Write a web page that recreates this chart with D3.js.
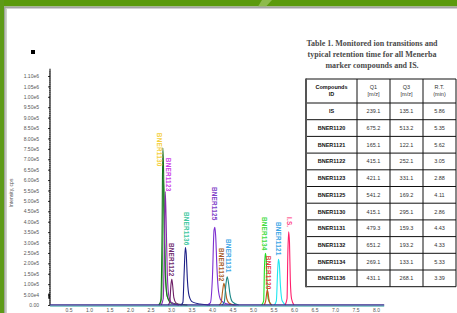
<!DOCTYPE html>
<html><head><meta charset="utf-8">
<script src="https://cdn.jsdelivr.net/npm/d3@7/dist/d3.min.js"></script>
<style>html,body{margin:0;padding:0;background:#fff;overflow:hidden}svg{display:block}</style>
</head><body><svg id="c" width="457" height="313"></svg>
<script>
// ---------- data ----------
const yTickValues = [0,50000,100000,150000,200000,250000,300000,350000,400000,450000,500000,550000,600000,650000,700000,750000,800000,850000,900000,950000,1000000,1050000,1100000];
const yTickLabels = ["0.00","5.00e4","1.00e5","1.50e5","2.00e5","2.50e5","3.00e5","3.50e5","4.00e5","4.50e5","5.00e5","5.50e5","6.00e5","6.50e5","7.00e5","7.50e5","8.00e5","8.50e5","9.00e5","9.50e5","1.00e6","1.05e6","1.10e6"];
const xTickValues = [0.5,1.0,1.5,2.0,2.5,3.0,3.5,4.0,4.5,5.0,5.5,6.0,6.5,7.0,7.5,8.0];
const timeExtent = [0.05, 8.2];

// chromatogram traces: [time (min), intensity (cps)]
const tr1130  = [[2.70,0],[2.75,20000],[2.78,320000],[2.80,755000],[2.82,640000],[2.84,300000],[2.87,110000],[2.91,40000],[3.0,12000],[3.2,3000],[3.4,0]];
const tr1130b = [[2.72,0],[2.77,30000],[2.80,300000],[2.82,600000],[2.84,450000],[2.87,150000],[2.91,40000],[3.0,8000],[3.2,0]];
const tr1123  = [[2.76,0],[2.81,30000],[2.84,300000],[2.86,545000],[2.88,420000],[2.91,150000],[2.95,40000],[3.02,10000],[3.2,0]];
const tr1122  = [[2.93,0],[2.97,15000],[3.00,100000],[3.02,124000],[3.04,95000],[3.07,35000],[3.12,10000],[3.25,0]];
const tr1136  = [[3.24,0],[3.29,12000],[3.32,150000],[3.35,276000],[3.37,250000],[3.40,120000],[3.44,45000],[3.52,15000],[3.7,5000],[3.95,0]];
const tr1125  = [[3.88,0],[3.96,10000],[4.01,130000],[4.05,360000],[4.07,373000],[4.09,330000],[4.12,180000],[4.16,65000],[4.22,22000],[4.35,6000],[4.6,0]];
const tr1132  = [[4.17,0],[4.22,10000],[4.26,70000],[4.29,104000],[4.32,80000],[4.36,30000],[4.42,8000],[4.55,0]];
const tr1131  = [[4.24,0],[4.30,15000],[4.34,100000],[4.37,136000],[4.40,110000],[4.44,50000],[4.50,15000],[4.65,0]];
const tr1134  = [[5.21,0],[5.26,20000],[5.28,180000],[5.30,248000],[5.32,230000],[5.34,120000],[5.37,30000],[5.45,0]];
const tr1120  = [[5.27,0],[5.31,20000],[5.34,65000],[5.35,72000],[5.37,55000],[5.40,15000],[5.46,0]];
const tr1121  = [[5.52,0],[5.57,20000],[5.60,160000],[5.62,220000],[5.64,200000],[5.67,90000],[5.71,20000],[5.80,0]];
const trIS    = [[5.78,0],[5.83,30000],[5.85,250000],[5.87,352000],[5.89,300000],[5.91,120000],[5.94,30000],[6.00,0]];

const traces = [
  {data: tr1130b, color: "#49b049"},
  {data: tr1130,  color: "#17741c"},
  {data: tr1123,  color: "#8a2bb0"},
  {data: tr1122,  color: "#6e1f66"},
  {data: tr1136,  color: "#1c1f86"},
  {data: tr1125,  color: "#7d2ed0"},
  {data: tr1132,  color: "#b06020"},
  {data: tr1131,  color: "#178585"},
  {data: tr1134,  color: "#1fe01f"},
  {data: tr1120,  color: "#cc4a1c"},
  {data: tr1121,  color: "#1ee6f0"},
  {data: trIS,    color: "#ff1f6b"}
];

// peak labels: name, label anchor time, label top intensity
const labelNames = ["BNER1130","BNER1123","BNER1122","BNER1136","BNER1125","BNER1132","BNER1131","BNER1134","BNER1120","BNER1121","I.S."];
const labelTimes = [2.71,2.95,3.02,3.37,4.07,4.24,4.41,5.29,5.39,5.61,5.88];
const labelTops  = [827000,707000,298000,447000,567000,274000,317000,423000,236000,399000,423000];
const labelColors = ["#f5d03e","#cc3ee8","#6e2a6e","#3cc8a0","#7e3ec8","#a85a26","#3aa6e6","#3edc3e","#e83c3c","#3aa6e6","#ff3d84"];

// table
const tableTitle = ["Table 1. Monitored ion transitions and","typical retention time for all Menerba","marker compounds and IS."];
const colHeads1 = ["Compounds","Q1","Q3","R.T."];
const colHeads2 = ["ID","[m/z]","[m/z]","(min)"];
const compounds = ["IS","BNER1120","BNER1121","BNER1122","BNER1123","BNER1125","BNER1130","BNER1131","BNER1132","BNER1134","BNER1136"];
const q1 = ["239.1","675.2","165.1","415.1","421.1","541.2","415.1","479.3","651.2","269.1","431.1"];
const q3 = ["135.1","513.2","122.1","252.1","331.1","169.2","295.1","159.3","193.2","133.1","268.1"];
const rt = ["5.86","5.35","5.62","3.05","2.88","4.11","2.86","4.43","4.33","5.33","3.39"];

// ---------- drawing ----------
const svg = d3.select("#c");

// frame
svg.append("rect").attr("x",0).attr("y",0).attr("width",457).attr("height",313).attr("fill","#fff");
svg.append("rect").attr("x",0).attr("y",0).attr("width",457).attr("height",6.5).attr("fill","#5b9a0c");
svg.append("polygon").attr("points","262,0 272,0 266,6.5 258,6.5").attr("fill","#8dbb4c");
svg.append("rect").attr("x",0).attr("y",6.5).attr("width",457).attr("height",1.5).attr("fill","#a3a3a3");
svg.append("rect").attr("x",0).attr("y",8).attr("width",457).attr("height",1).attr("fill","#d2d2d2");
svg.append("rect").attr("x",0).attr("y",0).attr("width",4).attr("height",313).attr("fill","#5e9a18");
svg.append("rect").attr("x",4).attr("y",6.5).attr("width",1.7).attr("height",306.5).attr("fill","#9fa59a");
svg.append("rect").attr("x",5.7).attr("y",8).attr("width",1.3).attr("height",305).attr("fill","#cfd2cc");

// small bullet
svg.append("rect").attr("x",31).attr("y",50).attr("width",4).attr("height",4).attr("fill","#000");

// scales
const x = d3.scaleLinear().domain([0,8]).range([48,376]);
const y = d3.scaleLinear().domain([0,1100000]).range([305,76]);

// y axis
const yAx = svg.append("g").attr("transform","translate(50,0)")
  .call(d3.axisLeft(y).tickValues(yTickValues).tickFormat((d,i)=>yTickLabels[i]).tickSizeInner(2).tickSizeOuter(0).tickPadding(9));
yAx.select(".domain").remove();
yAx.selectAll("line").attr("stroke","#000").attr("stroke-width",0.8);
yAx.selectAll("text").attr("font-family","Liberation Sans, Arial, sans-serif").attr("font-size","5px").attr("fill","#555");
// minor ticks
const minor = d3.range(0, 1130000, 10000);
svg.append("g").selectAll("line").data(minor).join("line")
  .attr("x1",49).attr("x2",50.5).attr("y1",d=>y(d)).attr("y2",d=>y(d)).attr("stroke","#000").attr("stroke-width",0.5);
svg.append("line").attr("x1",50).attr("x2",50).attr("y1",y(1135000)).attr("y2",y(0)).attr("stroke","#000").attr("stroke-width",1);
svg.append("rect").attr("x",48.3).attr("y",y(55000)).attr("width",1.7).attr("height",y(30000)-y(55000)).attr("fill","#111");

// y axis title
svg.append("text").attr("transform","translate(13,193) rotate(-90)")
  .attr("text-anchor","middle").attr("font-family","Liberation Sans, Arial, sans-serif").attr("font-size","5px").attr("fill","#555")
  .text("Intensity, cps");

// x axis
const xAx = svg.append("g").attr("transform","translate(0,305)")
  .call(d3.axisBottom(x).tickValues(xTickValues).tickFormat(d3.format(".1f")).tickSize(0).tickPadding(3));
xAx.select(".domain").remove();
xAx.selectAll("text").attr("font-family","Liberation Sans, Arial, sans-serif").attr("font-size","5px").attr("fill","#555");

// baseline (overlapping trace baselines)
svg.append("line").attr("x1",x(timeExtent[0])).attr("x2",x(timeExtent[1])).attr("y1",y(0)+1).attr("y2",y(0)+1).attr("stroke","#1f9a9a").attr("stroke-width",1);

// traces
const line = d3.line().x(d=>x(d[0])).y(d=>y(d[1])).curve(d3.curveMonotoneX);
svg.append("g").selectAll("path").data(traces).join("path")
  .attr("d",d=>line(d.data)).attr("fill","none").attr("stroke",d=>d.color).attr("stroke-width",1.1);

svg.append("line").attr("x1",x(timeExtent[0])).attr("x2",x(timeExtent[1])).attr("y1",y(0)-0.2).attr("y2",y(0)-0.2).attr("stroke","#3b2d8f").attr("stroke-width",1.3);

// peak labels
svg.append("g").selectAll("text").data(labelNames).join("text")
  .attr("transform",(d,i)=>`translate(${x(labelTimes[i])},${y(labelTops[i])}) rotate(90)`)
  .attr("text-anchor","start").attr("dominant-baseline","central")
  .attr("font-family","Liberation Sans, Arial, sans-serif").attr("font-weight","bold").attr("font-size","6.4px")
  .attr("letter-spacing","0.2px")
  .attr("fill",(d,i)=>labelColors[i]).text(d=>d);

// table title
svg.append("g").selectAll("text").data(tableTitle).join("text")
  .attr("x",372).attr("y",(d,i)=>46+i*11)
  .attr("text-anchor","middle").attr("font-family","Liberation Serif, Times New Roman, serif").attr("font-weight","bold")
  .attr("font-size","8px").attr("fill","#4a4a4a").text(d=>d);

// table
const colEdges = [306,357,390,423,456];
const tableTop = 79, headH = 24, rowH = 16.7;
const nRows = compounds.length;
const tableBottom = tableTop + headH + nRows*rowH;
const tg = svg.append("g");
const rowY = d3.range(nRows+1).map(i=>tableTop+headH+i*rowH);
tg.selectAll("line.h").data([tableTop].concat(rowY)).join("line").attr("class","h")
  .attr("x1",colEdges[0]).attr("x2",colEdges[4]).attr("y1",d=>d).attr("y2",d=>d).attr("stroke","#111").attr("stroke-width",1);
tg.selectAll("line.v").data(colEdges.slice(1)).join("line").attr("class","v")
  .attr("x1",d=>d).attr("x2",d=>d).attr("y1",tableTop).attr("y2",tableBottom).attr("stroke","#111").attr("stroke-width",1);
tg.append("line").attr("x1",colEdges[0]).attr("x2",colEdges[0]).attr("y1",tableTop-0.5).attr("y2",tableBottom+0.5).attr("stroke","#555").attr("stroke-width",2);

const cx = d3.range(4).map(i=>(colEdges[i]+colEdges[i+1])/2);
const font = "Liberation Sans, Arial, sans-serif";
colHeads1.forEach((t,i)=>{
  tg.append("text").attr("x",cx[i]).attr("y",tableTop+10).attr("text-anchor","middle").attr("font-family",font)
    .attr("font-size", "5.5px").attr("font-weight", i===0?"bold":"normal").attr("fill", i===0?"#111":"#333").text(t);
  tg.append("text").attr("x",cx[i]).attr("y",tableTop+17).attr("text-anchor","middle").attr("font-family",font)
    .attr("font-size", "5.5px").attr("font-weight", i===0?"bold":"normal").attr("fill", i===0?"#111":"#333").text(colHeads2[i]);
});
const cols = [compounds,q1,q3,rt];
cols.forEach((arr,ci)=>{
  tg.selectAll(null).data(arr).join("text")
    .attr("x",cx[ci]).attr("y",(d,i)=>rowY[i]+rowH/2+2)
    .attr("text-anchor","middle").attr("font-family",font).attr("font-size","5.5px")
    .attr("font-weight",ci===0?"bold":"normal").attr("fill",ci===0?"#111":"#333").text(d=>d);
});
</script></body></html>
